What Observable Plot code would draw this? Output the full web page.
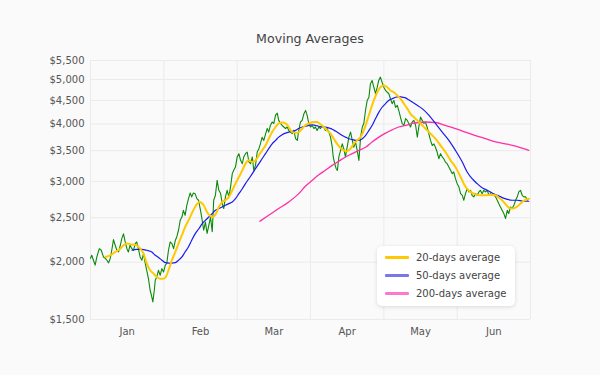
<!DOCTYPE html>
<html>
<head>
<meta charset="utf-8">
<script src="https://cdn.jsdelivr.net/npm/d3@7"></script>
<script src="https://cdn.jsdelivr.net/npm/@observablehq/plot@0.6"></script>
<style>
  html, body { margin: 0; padding: 0; background: #fafafa; }
  #wrap { position: relative; width: 600px; height: 375px; background: #fafafa; font-family: "DejaVu Sans", sans-serif; }
  #title { position: absolute; left: 90px; width: 440px; top: 32px; text-align: center; font-size: 12.6px; line-height: 14px; color: #444; }
  #legend { position: absolute; left: 377px; top: 246px; width: 138px; height: 60px; background: #fff; border-radius: 5px;
            box-shadow: 0 1px 4px rgba(0,0,0,0.13); box-sizing: border-box; padding-top: 2px; }
  .row { height: 18px; display: flex; align-items: center; font-size: 10px; color: #444; }
  .sw { width: 24px; height: 3px; margin-left: 8px; margin-right: 7px; border-radius: 1px; }
</style>
</head>
<body>
<div id="wrap">
  <div id="title">Moving Averages</div>
  <div id="chart"></div>
  <div id="legend"></div>
</div>
<script>
const months = ["Jan", "Feb", "Mar", "Apr", "May", "Jun"];
const yTicks = [1500, 2000, 2500, 3000, 3500, 4000, 4500, 5000, 5500];

const priceDay = [0,0.5,1.2,1.9,2.6,3.6,4.4,5.3,6.0,6.7,7.4,8.1,8.7,9.4,10.1,10.8,11.5,12.2,12.8,13.5,14.2,14.9,15.5,16.2,16.9,17.6,18.3,18.9,19.6,20.3,21.0,21.7,22.4,23.0,23.7,24.4,25.1,25.5,26.1,26.5,27.1,27.8,28.5,29.2,29.9,30.6,31.2,31.9,32.6,33.3,34.0,34.7,35.3,36.0,36.7,37.4,38.0,38.7,39.4,40.1,40.8,41.4,42.1,42.8,43.5,44.2,45.0,45.7,46.3,47.0,47.7,48.4,49.1,49.8,50.4,51.1,51.8,52.5,53.2,53.9,54.5,55.2,55.9,56.6,57.3,58.0,58.6,59.3,60.0,60.7,61.4,62.1,62.7,63.4,64.1,64.8,65.5,66.2,66.8,67.5,68.2,68.9,69.5,70.2,70.9,71.6,72.3,72.9,73.6,74.3,75.0,75.7,76.4,77.0,77.7,78.4,79.1,79.8,80.5,81.1,81.8,82.5,83.2,83.9,84.6,85.2,85.9,86.6,87.3,88.0,88.6,89.3,90.0,90.7,91.4,92.0,92.7,93.4,94.1,94.8,95.4,96.1,96.8,97.5,98.2,98.9,99.3,99.9,100.5,101.0,101.6,102.3,103.0,103.6,104.3,105.0,105.7,106.4,107.1,107.7,108.4,109.1,109.8,110.1,110.5,111.2,111.8,112.5,113.2,113.9,114.5,115.2,115.9,116.6,117.3,117.9,118.6,119.3,120.0,120.7,121.4,122.0,122.7,123.4,124.1,124.8,125.5,126.1,126.8,127.5,128.2,128.9,129.6,130.2,130.9,131.6,132.3,133.0,133.7,134.3,135.0,135.7,136.4,137.0,137.7,138.4,139.1,139.8,140.5,141.1,141.8,142.5,143.2,143.9,144.5,145.2,145.9,146.6,147.3,148.0,148.6,149.3,150.0,150.7,151.4,152.1,152.7,153.4,154.1,154.8,155.5,156.1,156.8,157.5,158.2,158.9,159.5,160.2,160.9,161.6,162.3,163.0,163.6,164.3,165.0,165.7,166.4,167.0,167.7,168.4,169.1,169.8,170.5,171.1,171.8,172.5,173.2,173.9,174.6,175.2,175.9,176.6,177.3,178.0,178.7,179.3];
const priceValue = [2040,2070,2019,1970,2053,2140,2123,2053,2040,2019,1993,2040,2123,2240,2177,2123,2105,2177,2250,2305,2213,2140,2105,2177,2140,2123,2195,2213,2140,2053,2019,2088,1987,1920,1841,1737,1679,1638,1737,1826,1856,1920,1872,1936,1904,1970,1987,2123,2213,2195,2140,2232,2270,2347,2467,2508,2594,2530,2660,2750,2830,2775,2830,2820,2750,2728,2594,2467,2347,2445,2310,2405,2508,2330,2728,2797,3015,2868,2825,2683,2617,2775,2868,2775,2918,3118,3170,3222,3390,3447,3333,3278,3390,3447,3475,3305,3278,3390,3170,3250,3475,3534,3620,3740,3684,3800,3910,3840,3970,4040,4010,4180,4225,4073,4010,3970,3940,3910,3940,3873,3840,3810,3873,3715,3684,3873,4040,4073,4210,4281,4180,4010,3940,3970,3910,3940,3873,3940,3910,3970,3940,3873,3910,3840,3745,3560,3390,3278,3196,3170,3390,3504,3620,3534,3390,3560,3745,3840,3684,3560,3655,3504,3333,3504,3745,3940,4010,4281,4501,4575,4890,4976,4810,4660,4810,4976,5060,4930,4810,4732,4690,4660,4540,4430,4501,4350,4390,4281,4140,4010,3970,4110,4073,4010,3940,4040,4073,3970,3745,3940,4140,4073,4010,4040,3940,3810,3684,3590,3620,3560,3475,3360,3447,3390,3360,3305,3278,3222,3170,3118,3144,3040,2965,2918,2820,2797,2728,2820,2890,2845,2868,2797,2775,2820,2797,2845,2868,2820,2868,2845,2868,2797,2820,2797,2810,2775,2728,2683,2638,2594,2552,2490,2594,2552,2638,2617,2660,2728,2775,2845,2868,2797,2775,2775,2728,2750];

const ma20Day = [6.1,8.1,10.1,12.2,13.5,14.9,16.9,18.9,20.3,21.7,23.0,24.4,25.8,27.1,28.5,29.9,30.8,31.9,33.3,34.7,36.0,37.4,38.7,40.1,41.4,42.8,44.6,46.3,47.7,49.1,50.1,51.1,52.5,53.9,55.2,56.6,58.0,59.3,60.7,62.1,63.4,64.8,66.2,67.5,68.9,70.2,71.6,72.9,74.3,75.7,77.0,78.4,79.8,81.1,82.5,84.8,86.6,88.0,89.3,91.4,92.7,94.1,95.4,96.8,98.2,99.5,100.9,102.3,103.6,105.0,106.4,107.7,109.1,110.5,111.8,113.2,114.5,115.9,117.3,118.6,120.0,121.4,122.7,124.1,125.5,126.8,128.2,129.6,130.9,132.3,133.7,135.0,137.0,139.1,141.1,143.2,145.2,147.3,149.3,151.4,152.7,154.1,155.5,157.5,159.5,161.6,163.6,165.7,167.0,168.4,169.8,171.1,172.5,173.9,175.2,176.6,178.0,179.3];
const ma20Value = [2053,2070,2105,2140,2177,2195,2185,2177,2140,2088,1987,1920,1888,1856,1841,1841,1856,1920,2019,2105,2195,2290,2385,2467,2552,2638,2705,2660,2570,2520,2508,2540,2638,2705,2728,2775,2868,2965,3065,3170,3278,3333,3305,3333,3420,3504,3590,3715,3840,3940,4010,4030,4010,3940,3840,3830,3905,3980,4010,4040,4040,3995,3940,3873,3810,3715,3620,3545,3504,3490,3534,3620,3684,3745,3873,4073,4281,4501,4690,4810,4850,4810,4732,4690,4615,4540,4430,4320,4210,4140,4073,4010,3910,3810,3715,3590,3475,3333,3222,3065,2965,2890,2845,2810,2797,2797,2805,2797,2765,2728,2675,2630,2617,2630,2660,2705,2735,2750];

const ma50Day = [17.0,18.9,21.0,23.0,25.1,26.5,27.8,29.2,30.6,31.9,33.3,34.7,36.0,37.4,38.7,40.1,41.4,42.8,44.3,45.7,47.0,48.4,49.8,51.1,52.5,53.9,55.2,56.6,58.0,59.3,60.7,62.1,63.4,64.8,66.2,67.5,68.9,70.2,71.6,72.9,74.3,75.7,77.0,78.4,79.8,81.1,82.5,83.9,85.2,86.6,88.0,89.3,90.7,92.0,93.4,94.8,96.1,97.5,98.9,100.2,101.6,103.0,104.3,105.7,107.1,108.4,109.8,111.2,112.5,113.9,115.2,116.6,118.0,119.3,120.7,122.0,123.4,124.8,126.1,127.5,128.9,130.2,131.6,133.0,135.7,138.4,141.1,143.9,146.6,149.3,152.1,154.1,156.1,158.2,160.2,162.3,164.3,166.4,168.4,170.5,172.5,174.6,176.6,179.3];
const ma50Value = [2123,2133,2133,2123,2105,2070,2047,2019,1995,1991,1991,1995,2019,2053,2105,2160,2232,2305,2365,2425,2467,2508,2552,2594,2617,2638,2660,2683,2705,2750,2820,2890,2965,3040,3118,3196,3278,3360,3447,3534,3620,3684,3745,3790,3820,3840,3855,3873,3910,3940,3955,3970,3985,3970,3955,3940,3940,3920,3895,3860,3820,3775,3745,3715,3700,3684,3684,3715,3775,3873,3970,4110,4245,4350,4430,4501,4540,4575,4590,4575,4560,4515,4465,4415,4320,4180,4010,3840,3684,3504,3305,3144,3040,2965,2905,2868,2830,2797,2765,2740,2728,2728,2718,2715];

const ma200Day = [69.3,72.9,77.0,81.1,85.2,88.0,90.7,93.4,96.1,98.9,101.6,104.3,107.1,109.8,112.5,115.2,118.0,120.7,123.4,126.1,128.9,131.6,134.3,137.0,141.1,145.2,149.3,153.4,157.5,161.6,165.7,169.8,173.9,179.3];
const ma200Value = [2455,2530,2617,2705,2820,2930,3015,3100,3170,3250,3320,3390,3447,3504,3560,3655,3745,3820,3885,3940,3970,4010,4030,4040,4030,3970,3910,3840,3775,3715,3655,3620,3580,3504];

const seriesNames = ["20-days average", "50-days average", "200-days average"];
const lineColors = ["#ffc800", "#1a1aee", "#ff2fa6"];
const legendColors = ["#ffc800", "#7777ee", "#ff77cc"];

const toRows = (xs, ys) => xs.map((d, i) => ({day: d, value: ys[i]}));
const price = toRows(priceDay, priceValue);
const ma20 = toRows(ma20Day, ma20Value);
const ma50 = toRows(ma50Day, ma50Value);
const ma200 = toRows(ma200Day, ma200Value);

const monthTicks = months.map((m, i) => i * 30 + 15);
const monthBounds = d3.range(0, 181, 30);

const chart = Plot.plot({
  width: 600,
  height: 375,
  marginLeft: 90,
  marginRight: 70,
  marginTop: 60,
  marginBottom: 56,
  style: {background: "#fafafa", fontFamily: "DejaVu Sans, sans-serif", fontSize: "10px", color: "#555"},
  x: {domain: [0, 180], ticks: monthTicks, tickFormat: d => months[Math.round((d - 15) / 30)], tickSize: 0, tickPadding: 8, label: null},
  y: {type: "log", domain: [1500, 5500], ticks: yTicks, tickFormat: d => "$" + d3.format(",")(d), tickSize: 0, tickPadding: 6, label: null},
  marks: [
    Plot.ruleY(yTicks, {stroke: "#ebebeb", strokeWidth: 1}),
    Plot.ruleX(monthBounds, {stroke: "#ebebeb", strokeWidth: 1}),
    Plot.line(price, {x: "day", y: "value", stroke: "#0a8a0a", strokeWidth: 1.1}),
    Plot.line(ma200, {x: "day", y: "value", stroke: lineColors[2], strokeWidth: 1.3, curve: "monotone-x"}),
    Plot.line(ma50, {x: "day", y: "value", stroke: lineColors[1], strokeWidth: 1.2, curve: "monotone-x"}),
    Plot.line(ma20, {x: "day", y: "value", stroke: lineColors[0], strokeWidth: 2, curve: "monotone-x"})
  ]
});
document.getElementById("chart").appendChild(chart);

const legend = document.getElementById("legend");
seriesNames.forEach((name, i) => {
  const row = document.createElement("div");
  row.className = "row";
  const sw = document.createElement("div");
  sw.className = "sw";
  sw.style.background = legendColors[i];
  const label = document.createElement("span");
  label.textContent = name;
  row.appendChild(sw);
  row.appendChild(label);
  legend.appendChild(row);
});
</script>
</body>
</html>
